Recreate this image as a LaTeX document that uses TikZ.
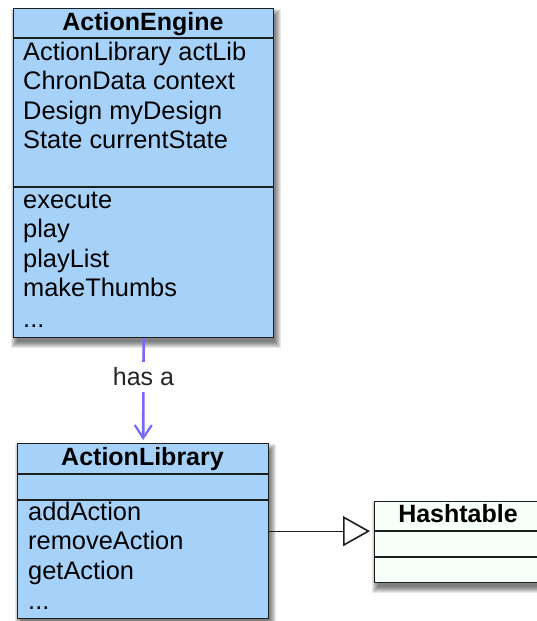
\documentclass[tikz,border=0pt]{standalone}
\usepackage{fontspec}
\setmainfont{Liberation Sans}
\usetikzlibrary{arrows.meta}

\definecolor{classblue}{RGB}{166,210,250}
\definecolor{classpale}{RGB}{246,255,248}
\definecolor{linkpurple}{RGB}{118,104,250}
\definecolor{edgegray}{RGB}{30,30,30}

\tikzset{
  classbox/.style={draw=edgegray, line width=1.3pt, fill=classblue, inner sep=0pt,
                   anchor=north west, rectangle},
  sepline/.style={draw=edgegray, line width=1.1pt},
  member/.style={anchor=base west, inner sep=0pt, font=\fontsize{25.4}{29.5}\selectfont},
  classname/.style={anchor=base, inner sep=0pt, font=\fontsize{25}{29.5}\selectfont\bfseries},
  haslink/.style={linkpurple, line width=2.6pt,
                  -{Straight Barb[length=13pt,width=17pt,line width=2.2pt]}, shorten >=3pt},
  inherit/.style={edgegray, line width=1.3pt,
                  -{Triangle[length=27pt,width=30pt,fill=white,line width=1.6pt]}, shorten >=4pt},
  linklabel/.style={fill=white, inner sep=6pt, text=black!85,
                    font=\fontsize{25}{29.5}\selectfont},
  shadowlayer/.style={fill=black, opacity=0.09}
}

\begin{document}
\begin{tikzpicture}[x=1pt, y=-1pt]
  \useasboundingbox (0,0) rectangle (537,621);
  \clip (0,0) rectangle (537,621);
  \fill[white] (0,0) rectangle (537,621);

  % soft drop shadows, built from stacked translucent rectangles
  \foreach \k in {0,1,2,3,4,5,6}{
    \fill[shadowlayer] (17-\k,15-\k) rectangle (275+\k,342+\k);
    \fill[shadowlayer] (21-\k,450-\k) rectangle (270+\k,623+\k);
    \fill[shadowlayer] (378-\k,508-\k) rectangle (621+\k,587+\k);
  }

  % ActionEngine class
  \node[classbox, minimum width=260pt, minimum height=329pt] (engine) at (13,8) {};
  \draw[sepline] (13,38) -- (273,38);
  \draw[sepline] (13,187) -- (273,187);
  \node[classname] (enginename) at (143,30) {ActionEngine};
  \node[member] (eattr1) at (23,60) {ActionLibrary actLib};
  \node[member] (eattr2) at (23,89.5) {ChronData context};
  \node[member] (eattr3) at (23,119) {Design myDesign};
  \node[member] (eattr4) at (23,148.5) {State currentState};
  \node[member] (eop1) at (23,208) {execute};
  \node[member] (eop2) at (23,237.5) {play};
  \node[member] (eop3) at (23,267) {playList};
  \node[member] (eop4) at (23,296.5) {makeThumbs};
  \node[member] (eop5) at (23,327) {...};

  % ActionLibrary class
  \node[classbox, minimum width=251pt, minimum height=175pt] (library) at (17,443) {};
  \draw[sepline] (17,474) -- (268,474);
  \draw[sepline] (17,500) -- (268,500);
  \node[classname] (libraryname) at (142.5,465) {ActionLibrary};
  \node[member] (lop1) at (28,520) {addAction};
  \node[member] (lop2) at (28,549.5) {removeAction};
  \node[member] (lop3) at (28,579) {getAction};
  \node[member] (lop4) at (28,609) {...};

  % Hashtable class
  \node[classbox, fill=classpale, minimum width=246pt, minimum height=81pt] (hash) at (374,501) {};
  \draw[sepline] (374,531) -- (620,531);
  \draw[sepline] (374,557) -- (620,557);
  \node[classname] (hashname) at (458,522) {Hashtable};

  % relations
  \draw[haslink] (engine.south) -- node[linklabel, pos=0.37] (haslabel) {has a} (library.north);
  \draw[inherit] (library.east) -- (library.east -| hash.west);
\end{tikzpicture}
\end{document}
